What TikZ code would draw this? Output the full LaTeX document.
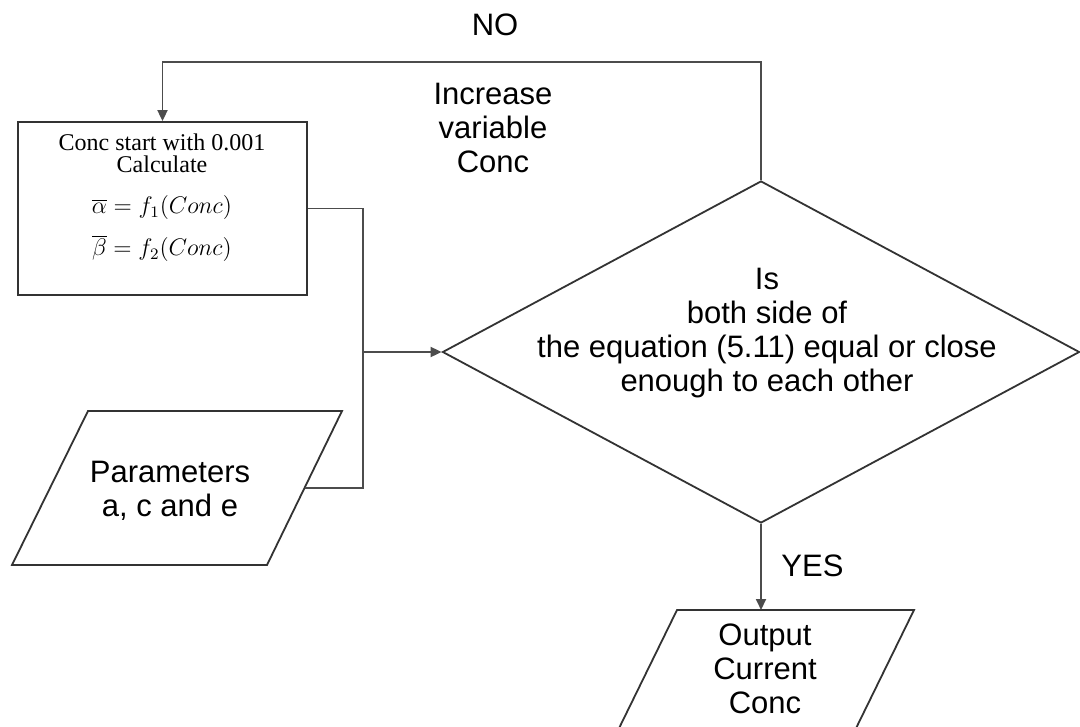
\documentclass[tikz,border=0pt]{standalone}
\usepackage{fontspec}
\setmainfont{Liberation Sans}
\newfontfamily\tnr{Liberation Serif}
\usetikzlibrary{shapes.geometric,arrows.meta,calc}
\begin{document}
\begin{tikzpicture}[x=0.5pt,y=-0.5pt,
  outline/.style={draw=black!80,line width=0.9pt},
  conn/.style={draw=black!70,line width=0.9pt},
  arr/.style={conn,-{Triangle[length=5.5pt,width=5pt]}},
  lbl/.style={font=\fontsize{15.5pt}{17pt}\selectfont,align=center,inner sep=0pt},
  boxtext/.style={font=\tnr\fontsize{12pt}{11pt}\selectfont,align=center,inner sep=0pt}]
\useasboundingbox (0,0) rectangle (1080,727);
\clip (0,0) rectangle (1080,727);
\fill[white] (0,0) rectangle (1080,727);

% process box
\node[outline,rectangle,minimum width=144.5pt,minimum height=86.5pt,inner sep=0pt] (box) at (162.5,208.5) {};
\node[boxtext] (boxtxt) at (162,198) {\lineskiplimit=-30pt Conc start with 0.001\\Calculate\\[9.5pt]
  $\overline{\alpha} = f_1(Conc)$\\[6.5pt]
  $\overline{\beta} = f_2(Conc)$};

% decision diamond
\node[outline,diamond,minimum width=318.5pt,minimum height=171pt,inner sep=0pt] (d) at (761,352) {};
\node[lbl] (dq) at (767,333) {Is\\both side of\\the equation (5.11) equal or close\\enough to each other};

% parameters input
\coordinate (pA) at (88,411);
\coordinate (pB) at (342,411);
\coordinate (pC) at (267,565);
\coordinate (pD) at (12,565);
\draw[outline] (pA) -- (pB) -- (pC) -- (pD) -- cycle;
\coordinate (parE) at ($(pB)!0.5!(pC)$);
\node[lbl] (par) at (170,491) {Parameters\\a, c and e};

% output
\coordinate (oA) at (677,610);
\coordinate (oB) at (914,610);
\coordinate (oC) at (838,765);
\coordinate (oD) at (601,765);
\draw[outline] (oA) -- (oB) -- (oC) -- (oD) -- cycle;
\node[lbl] (out) at (765,669) {Output\\Current\\Conc};

% connectors
\coordinate (top) at (761,62);
\coordinate (j) at (363,352);
\coordinate (oTop) at (761,610);
\draw[arr] (d.north) -- (top) -| (box.north);
\draw[conn] (box.east) -| (j) |- (parE);
\draw[arr] (j) -- (d.west);
\draw[arr] (d.south) -- (oTop);

% labels
\node[lbl] (no) at (495,25) {NO};
\node[lbl] (inc) at (493,128) {Increase\\variable\\Conc};
\node[lbl,anchor=west] (yes) at (781,566) {YES};
\end{tikzpicture}
\end{document}
